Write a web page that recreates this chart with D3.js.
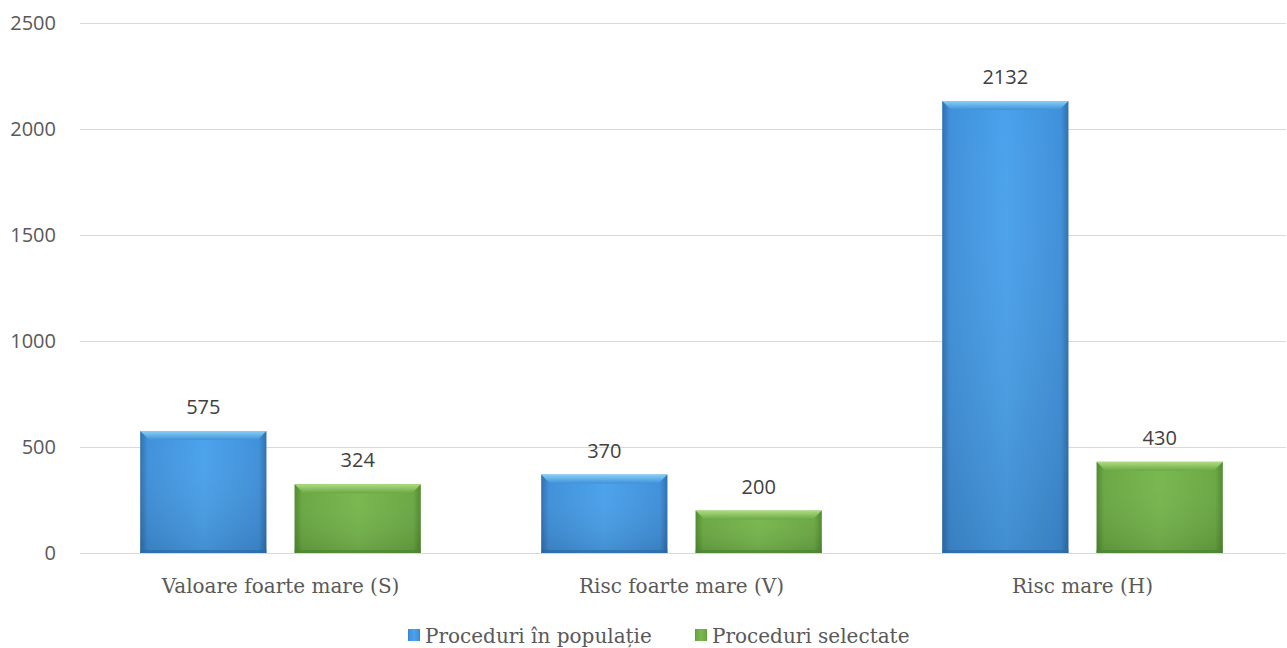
<!DOCTYPE html>
<html><head><meta charset="utf-8">
<script src="https://cdn.jsdelivr.net/npm/d3@7"></script>
<style>body{margin:0;background:#fff}svg{display:block}</style>
</head><body><svg id="c" width="1287" height="648"></svg>
<script>
const categories = ["Valoare foarte mare (S)", "Risc foarte mare (V)", "Risc mare (H)"];
const seriesNames = ["Proceduri în populație", "Proceduri selectate"];
const populatie = [575, 370, 2132];
const selectate = [324, 200, 430];
const yTicks = [0, 500, 1000, 1500, 2000, 2500];

const svg = d3.select("#c");
const m = {l: 80, r: 4, t: 23, b: 95};
const W = 1287, H = 648;
const x = d3.scaleBand().domain(categories).range([m.l, W - m.r]).paddingInner(0).paddingOuter(0);
const x1 = d3.scaleBand().domain([0,1]).range([0, x.bandwidth()]).paddingInner(0.182).paddingOuter(0.39);
const y = d3.scaleLinear().domain([0, 2500]).range([H - m.b, m.t]);

const defs = svg.append("defs");
function grads(id, light, mid, dark, top) {
  const g = defs.append("linearGradient").attr("id", id).attr("x1", 0).attr("x2", 1).attr("y1", 0).attr("y2", 0);
  g.append("stop").attr("offset", "0%").attr("stop-color", dark);
  g.append("stop").attr("offset", "6%").attr("stop-color", mid);
  g.append("stop").attr("offset", "50%").attr("stop-color", light);
  g.append("stop").attr("offset", "94%").attr("stop-color", mid);
  g.append("stop").attr("offset", "100%").attr("stop-color", dark);
  const v = defs.append("linearGradient").attr("id", id + "v").attr("x1", 0).attr("x2", 0).attr("y1", 0).attr("y2", 1);
  v.append("stop").attr("offset", "0%").attr("stop-color", "#fff").attr("stop-opacity", 0);
  v.append("stop").attr("offset", "100%").attr("stop-color", "#000").attr("stop-opacity", 0.12);
  const t = defs.append("linearGradient").attr("id", id + "t").attr("x1", 0).attr("x2", 0).attr("y1", 0).attr("y2", 1);
  t.append("stop").attr("offset", "0%").attr("stop-color", top);
  t.append("stop").attr("offset", "100%").attr("stop-color", mid);
}
grads("gb", "#4aa2ec", "#3f90da", "#2f6fae", "#86d0f6");
grads("gg", "#78b84e", "#6aa843", "#4f8a2e", "#acdc80");

// grid
const ya = d3.axisLeft(y).tickValues(yTicks).tickFormat(d3.format("d")).tickSize(-(W - 1 - m.l)).tickPadding(24);
const gy = svg.append("g").attr("transform", `translate(${m.l},0)`).call(ya);
gy.select(".domain").remove();
gy.selectAll(".tick line").attr("stroke", "#d9d9d9").attr("stroke-width", 1);
gy.selectAll(".tick text").attr("fill", "#595959").attr("font-family", "'Open Sans', sans-serif").attr("font-size", 20);

const data = categories.map((c, i) => ({c, v: [populatie[i], selectate[i]]}));
const grp = svg.append("g").selectAll("g").data(data).join("g").attr("transform", d => `translate(${x(d.c)},0)`);
const bars = grp.selectAll("g.bar").data(d => d.v.map((v, k) => ({v, k}))).join("g").attr("class", "bar");
bars.append("rect")
  .attr("x", d => x1(d.k)).attr("width", x1.bandwidth())
  .attr("y", d => y(d.v)).attr("height", d => y(0) - y(d.v))
  .attr("fill", d => d.k === 0 ? "url(#gb)" : "url(#gg)");
bars.append("rect")
  .attr("x", d => x1(d.k)).attr("width", x1.bandwidth())
  .attr("y", d => y(d.v)).attr("height", d => y(0) - y(d.v))
  .attr("fill", d => d.k === 0 ? "url(#gbv)" : "url(#ggv)");
// top bevel
bars.append("path")
  .attr("d", d => {
    const x0 = x1(d.k), w = x1.bandwidth(), t = y(d.v), b = 9;
    return `M${x0},${t}L${x0 + w},${t}L${x0 + w - b},${t + b}L${x0 + b},${t + b}Z`;
  })
  .attr("fill", d => d.k === 0 ? "url(#gbt)" : "url(#ggt)");
// bottom dark edge
bars.append("rect")
  .attr("x", d => x1(d.k)).attr("width", x1.bandwidth())
  .attr("y", y(0) - 3).attr("height", 3)
  .attr("fill", d => d.k === 0 ? "#2c6aa5" : "#4c8530").attr("opacity", 0.7);
bars.append("text")
  .attr("x", d => x1(d.k) + x1.bandwidth() / 2)
  .attr("y", d => y(d.v) - 17)
  .attr("text-anchor", "middle")
  .attr("fill", "#404040").attr("font-family", "'Open Sans', sans-serif").attr("font-size", 20)
  .text(d => d.v);

// x labels
const xa = d3.axisBottom(x).tickSize(0).tickPadding(26);
const gx = svg.append("g").attr("transform", `translate(0,${y(0)})`).call(xa);
gx.select(".domain").remove();
gx.selectAll(".tick text").attr("fill", "#595959").attr("font-family", "'DejaVu Serif', serif").attr("font-size", 20);

// legend
const leg = svg.append("g").attr("transform", "translate(0,643)");
const lx = [408, 695];
seriesNames.forEach((n, i) => {
  const g = leg.append("g").attr("transform", `translate(${lx[i]},0)`);
  g.append("rect").attr("x", 0).attr("y", -14).attr("width", 12).attr("height", 12)
    .attr("fill", i === 0 ? "url(#gb)" : "url(#gg)");
  g.append("text").attr("x", 17).attr("y", 0).attr("fill", "#595959")
    .attr("font-family", "'DejaVu Serif', serif").attr("font-size", 20).text(n);
});
</script></body></html>
